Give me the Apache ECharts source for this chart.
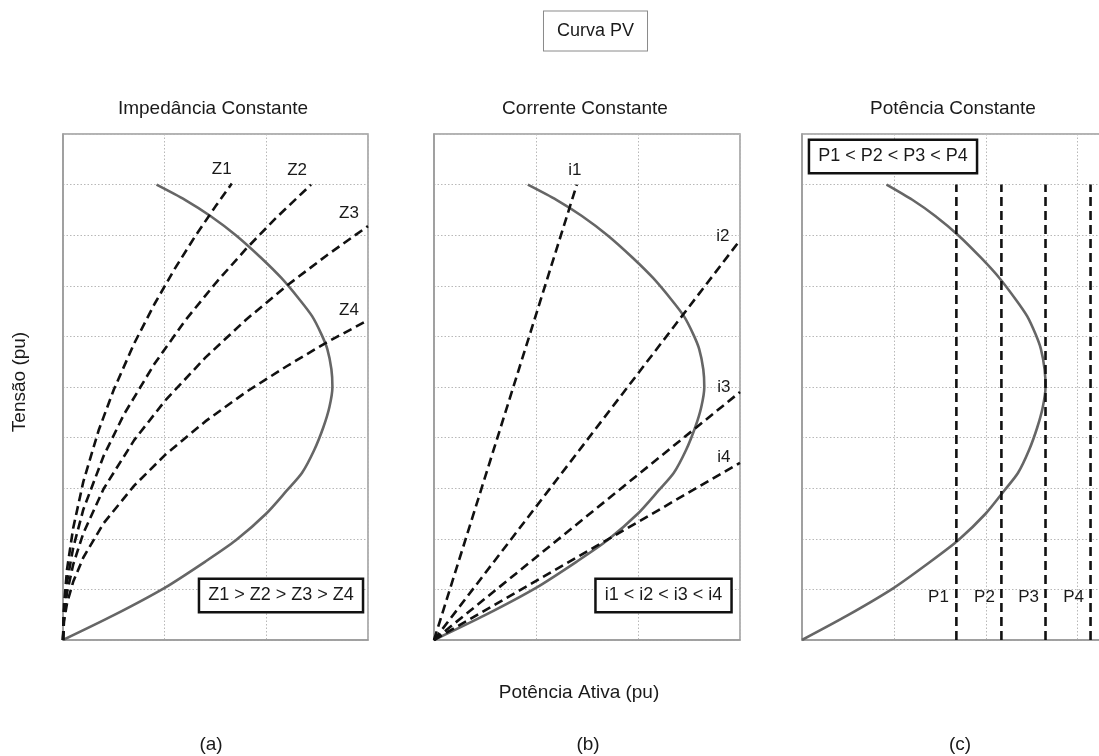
<!DOCTYPE html>
<html>
<head>
<meta charset="utf-8">
<script src="https://cdn.jsdelivr.net/npm/echarts@6/dist/echarts.min.js"></script>
<style>html,body{margin:0;padding:0;background:#fff;overflow:hidden}#c{width:1112px;height:756px}</style>
</head>
<body>
<div id="c"></div>
<script>
// ---- Data (x = Potência Ativa (pu), y = Tensão (pu)) ----
const pvP = [0, 0.5, 1.0, 1.4, 1.7, 2.0, 2.2, 2.35, 2.47, 2.56, 2.62, 2.65, 2.64, 2.6, 2.54, 2.45, 2.33, 2.15, 1.95, 1.7, 1.45, 1.2, 0.92];
const pvV = [0, 0.49, 1.03, 1.55, 1.97, 2.5, 2.95, 3.3, 3.75, 4.2, 4.6, 5.0, 5.35, 5.75, 6.05, 6.4, 6.72, 7.15, 7.55, 8.0, 8.38, 8.7, 9.0];

// (a) Impedância constante
const z1P = [0, 0.01, 0.04, 0.1, 0.2, 0.35, 0.5, 0.7, 0.9, 1.1, 1.3, 1.5, 1.66];
const z1V = [0, 0.7, 1.4, 2.21, 3.13, 4.14, 4.95, 5.86, 6.64, 7.34, 7.98, 8.57, 9.02];
const z2P = [0, 0.01, 0.04, 0.1, 0.2, 0.4, 0.6, 0.9, 1.2, 1.5, 1.8, 2.1, 2.44];
const z2V = [0, 0.58, 1.15, 1.82, 2.58, 3.64, 4.46, 5.46, 6.31, 7.05, 7.73, 8.35, 9.0];
const z3P = [0, 0.01, 0.04, 0.1, 0.2, 0.4, 0.7, 1.0, 1.4, 1.8, 2.2, 2.6, 3.0];
const z3V = [0, 0.47, 0.94, 1.49, 2.11, 2.99, 3.95, 4.72, 5.58, 6.33, 7.0, 7.61, 8.18];
const z4P = [0, 0.01, 0.04, 0.1, 0.2, 0.4, 0.7, 1.0, 1.4, 1.8, 2.2, 2.6, 3.0];
const z4V = [0, 0.37, 0.73, 1.15, 1.63, 2.31, 3.05, 3.65, 4.32, 4.9, 5.41, 5.89, 6.32];
const zNames = ['Z1', 'Z2', 'Z3', 'Z4'];

// (b) Corrente constante
const i1P = [0, 1.4];  const i1V = [0, 9.0];
const i2P = [0, 3.0];  const i2V = [0, 7.9];
const i3P = [0, 3.0];  const i3V = [0, 4.9];
const i4P = [0, 3.0];  const i4V = [0, 3.5];
const iNames = ['i1', 'i2', 'i3', 'i4'];

// (c) Potência constante
const pLevels = [1.68, 2.17, 2.65, 3.14];
const pSpanV = [0, 9.0];
const pNames = ['P1', 'P2', 'P3', 'P4'];

// Texts
const mainTitle = 'Curva PV';
const panelTitles = ['Impedância Constante', 'Corrente Constante', 'Potência Constante'];
const panelTags = ['(a)', '(b)', '(c)'];
const boxTexts = ['Z1 > Z2 > Z3 > Z4', 'i1 < i2 < i3 < i4', 'P1 < P2 < P3 < P4'];
const xName = 'Potência Ativa (pu)';
const yName = 'Tensão (pu)';

// ---- Chart ----
const FONT = '"Liberation Sans", Arial, sans-serif';
const TXT = '#1a1a1a';
const chart = echarts.init(document.getElementById('c'), null, {renderer: 'canvas'});

const grids = [
  {left: 63, top: 134, width: 305, height: 506},
  {left: 434, top: 134, width: 306, height: 506},
  {left: 802, top: 134, width: 306, height: 506}
].map(g => Object.assign(g, {show: true, borderColor: '#9a9a9a', borderWidth: 1.5, containLabel: false}));
const xMax = [3, 3, 3.33];

const split = {show: true, lineStyle: {color: '#b8b8b8', type: [1.5, 2], width: 1}};
const xAxes = [0, 1, 2].map(i => ({
  gridIndex: i, type: 'value', min: 0, max: xMax[i], interval: 1,
  axisLine: {show: true, lineStyle: {color: '#9a9a9a', width: 1.5}},
  axisTick: {show: false}, axisLabel: {show: false}, splitLine: split
}));
const yAxes = [0, 1, 2].map(i => ({
  gridIndex: i, type: 'value', min: 0, max: 10, interval: 1,
  axisLine: {show: true, lineStyle: {color: '#9a9a9a', width: 1.5}},
  axisTick: {show: false}, axisLabel: {show: false}, splitLine: split
}));

function zip(a, b) { return a.map((v, k) => [v, b[k]]); }
const dashStyle = {color: '#111', width: 2.6, type: [9, 5]};
const lblBase = {show: true, fontSize: 17, fontFamily: FONT, color: TXT, distance: 5};

function dashed(idx, pts, labelIdx, label) {
  const data = pts.map((p, k) => k === labelIdx ? {value: p, label: Object.assign({}, lblBase, label)} : p);
  return {
    type: 'line', xAxisIndex: idx, yAxisIndex: idx, data: data,
    showSymbol: true, symbol: 'circle', symbolSize: 1,
    itemStyle: {color: 'rgba(0,0,0,0)', borderWidth: 0},
    lineStyle: dashStyle, smooth: false, silent: true, z: 3, clip: true
  };
}
function pvSeries(idx) {
  return {
    type: 'line', xAxisIndex: idx, yAxisIndex: idx, data: zip(pvP, pvV),
    showSymbol: false, smooth: 0.25, silent: true, z: 2,
    lineStyle: {color: '#666', width: 2.6}
  };
}

const zP = [z1P, z2P, z3P, z4P], zV = [z1V, z2V, z3V, z4V];
const zOff = [[-10, 0], [-14, 0], [-19, 1], [-19, 4]];
const iP = [i1P, i2P, i3P, i4P], iV = [i1V, i2V, i3V, i4V];
const iLab = [
  {position: 'top', offset: [-2, 0]},
  {position: 'left', offset: [-5, -4]},
  {position: 'left', offset: [-4, -5]},
  {position: 'left', offset: [-4, -6]}
];
const pOff = [[-2, -43], [-1, -43], [-1, -43], [-1, -43]];

const series = [pvSeries(0), pvSeries(1), pvSeries(2)];
zNames.forEach((n, k) => {
  const pts = zip(zP[k], zV[k]);
  series.push(dashed(0, pts, pts.length - 1, {formatter: n, position: 'top', offset: zOff[k]}));
});
iNames.forEach((n, k) => {
  const pts = zip(iP[k], iV[k]);
  series.push(dashed(1, pts, pts.length - 1, Object.assign({formatter: n}, iLab[k])));
});
pNames.forEach((n, k) => {
  const pts = pSpanV.map(v => [pLevels[k], v]);
  series.push(dashed(2, pts, 0, {formatter: n, position: 'left', offset: pOff[k]}));
});

function txt(text, x, y, size, extra) {
  return {
    type: 'text', z: 50, silent: true,
    style: Object.assign({
      text: text, x: x, y: y, font: size + 'px ' + FONT, fill: TXT,
      align: 'center', verticalAlign: 'middle'
    }, extra || {})
  };
}
const boxStyle = {borderColor: '#111', borderWidth: 2.5, padding: [7, 8, 6, 8], backgroundColor: '#fff'};
const graphic = [
  txt(mainTitle, 595.5, 31, 18, {borderColor: '#8a8a8a', borderWidth: 1, padding: [11, 13, 10, 13], backgroundColor: '#fff'}),
  txt(panelTitles[0], 213, 109, 19),
  txt(panelTitles[1], 585, 109, 19),
  txt(panelTitles[2], 953, 109, 19),
  txt(boxTexts[0], 281, 595.5, 18, boxStyle),
  txt(boxTexts[1], 663.5, 595.5, 18, boxStyle),
  txt(boxTexts[2], 893, 156.5, 18, boxStyle),
  txt(xName, 579, 693, 19),
  txt(panelTags[0], 211, 745, 19),
  txt(panelTags[1], 588, 745, 19),
  txt(panelTags[2], 960, 745, 19),
  {type: 'text', z: 50, silent: true, x: 20, y: 382, rotation: Math.PI / 2,
   style: {text: yName, x: 0, y: 0, font: '19px ' + FONT, fill: TXT, align: 'center', verticalAlign: 'middle'}}
];

chart.setOption({
  animation: false,
  backgroundColor: '#fff',
  grid: grids, xAxis: xAxes, yAxis: yAxes,
  series: series,
  graphic: graphic
});
</script>
</body>
</html>
